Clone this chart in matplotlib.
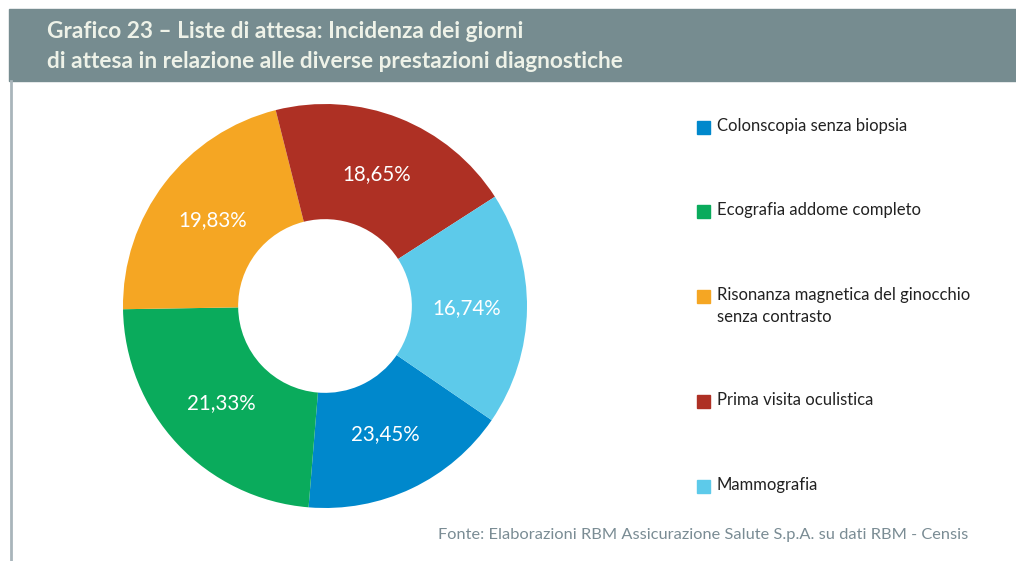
import numpy as np
import matplotlib.pyplot as plt
from matplotlib.patches import Rectangle

plt.rcParams['font.family'] = ['Lato', 'DejaVu Sans']

# legend order
categories = ['Colonscopia senza biopsia', 'Ecografia addome completo',
              'Risonanza magnetica del ginocchio\nsenza contrasto',
              'Prima visita oculistica', 'Mammografia']
values = [23.45, 21.33, 19.83, 18.65, 16.74]
colors = ['#0088CC', '#0AAB5C', '#F5A623', '#AE3024', '#5DCAEA']
# in the original the wedge sizes are shifted by one against the labels
wedge_sizes = np.roll(values, 1)

W, H = 1016, 561
fig = plt.figure(figsize=(W / 100, H / 100), dpi=100)

# header bar
fig.patches.append(Rectangle((9 / W, 1 - 81 / H), 1 - 9 / W, 72 / H,
                             transform=fig.transFigure, color='#768C90', zorder=0))
fig.text(47 / W, 1 - 31 / H, 'Grafico 23 – Liste di attesa: Incidenza dei giorni',
         color='#EEF2E8', fontsize=16.3, fontweight='bold', va='center')
fig.text(47 / W, 1 - 61 / H, 'di attesa in relazione alle diverse prestazioni diagnostiche',
         color='#EEF2E8', fontsize=16.3, fontweight='bold', va='center')
# left rule
fig.add_artist(plt.Line2D([10.5 / W, 10.5 / W], [0, 1 - 81 / H], transform=fig.transFigure,
                          color='#A9B5BB', lw=2))

cx, cy, r = 325, 306, 202
ax = fig.add_axes([(cx - r) / W, (H - cy - r) / H, 2 * r / W, 2 * r / H])
wedges, _ = ax.pie(wedge_sizes, colors=colors, startangle=-34.4,
                   counterclock=False, radius=1, wedgeprops=dict(width=0.57, linewidth=0))
for w, v in zip(wedges, values):
    ang = np.deg2rad((w.theta1 + w.theta2) / 2)
    ax.text(0.7 * np.cos(ang), 0.7 * np.sin(ang), f'{v:.2f}%'.replace('.', ','),
            ha='center', va='center', color='white', fontsize=14.8)
ax.set_xlim(-1, 1)
ax.set_ylim(-1, 1)
ax.axis('off')

# legend
leg_y = [127, 211, 296, 401, 486]
for lab, c, y in zip(categories, colors, leg_y):
    fig.patches.append(Rectangle((697 / W, 1 - (y + 6.5) / H), 13 / W, 13 / H,
                                 transform=fig.transFigure, color=c))
    fig.text(717 / W, 1 - (y - 9) / H, lab, fontsize=12, va='top', color='#222222',
             linespacing=1.45)

fig.text(968 / W, 1 - 535 / H, 'Fonte: Elaborazioni RBM Assicurazione Salute S.p.A. su dati RBM - Censis',
         ha='right', va='center', fontsize=11.8, color='#7A8C94')

fig.savefig('out.png', dpi=100)
